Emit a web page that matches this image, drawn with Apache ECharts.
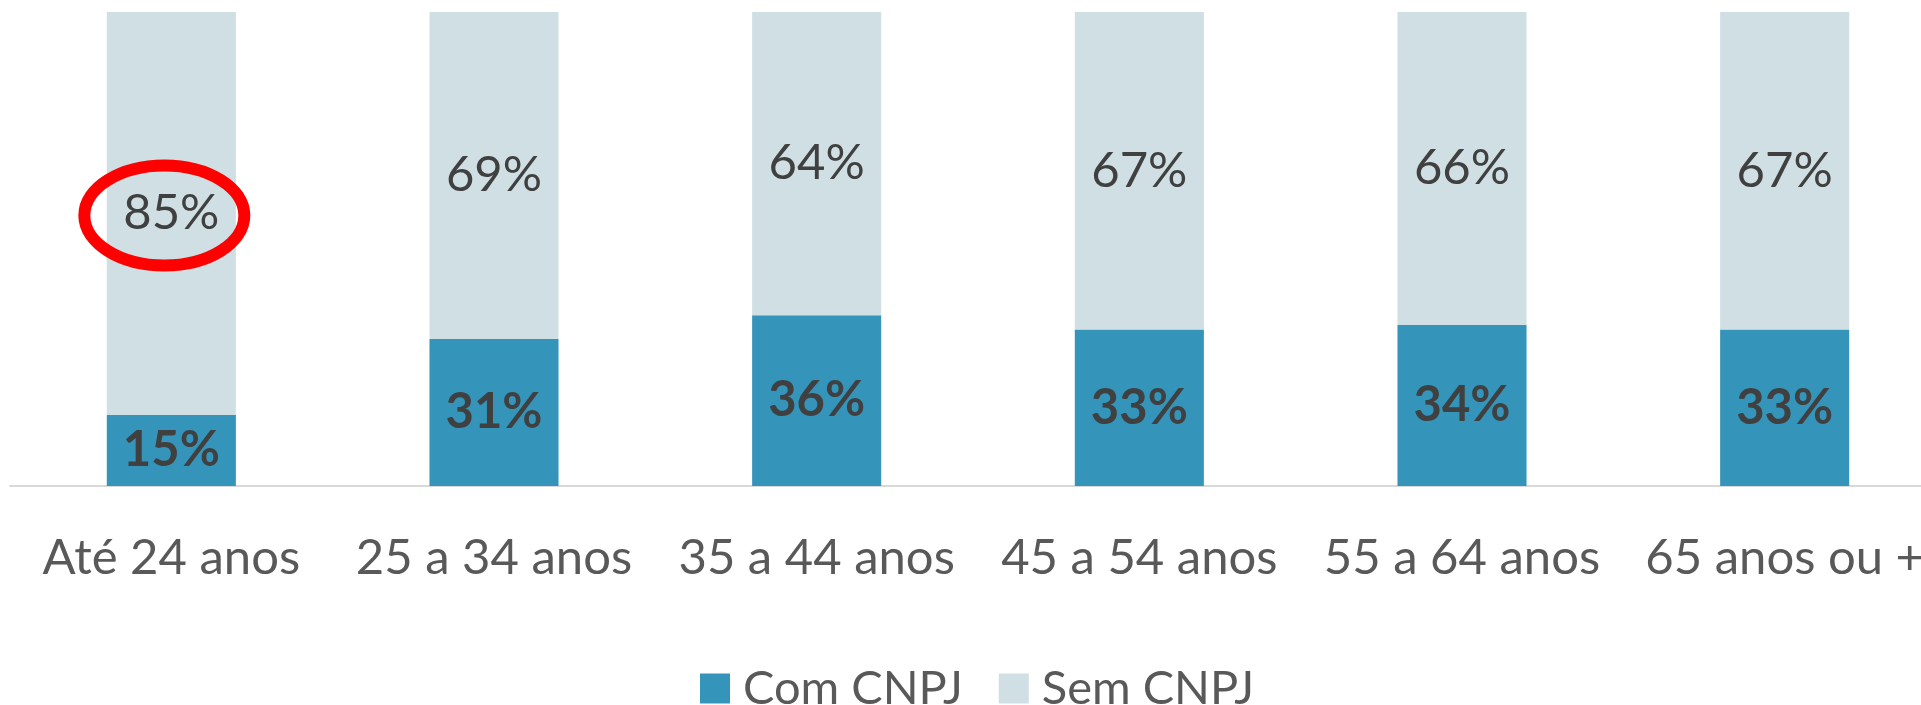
<!DOCTYPE html>
<html>
<head>
<meta charset="utf-8">
<script src="https://cdn.jsdelivr.net/npm/echarts@6/dist/echarts.min.js"></script>
<style>
  html, body { margin: 0; padding: 0; background: #fff; overflow: hidden; }
  #chart { width: 1946px; height: 705px; }
</style>
</head>
<body>
<div id="chart"></div>
<script>
var categories = ["Até 24 anos", "25 a 34 anos", "35 a 44 anos", "45 a 54 anos", "55 a 64 anos", "65 anos ou +"];
var comCnpj = [15, 31, 36, 33, 34, 33];
var semCnpj = [85, 69, 64, 67, 66, 67];
var highlightIndex = 0;

var font = "Lato";
var myChart = echarts.init(document.getElementById("chart"));
var option = {
  animation: false,
  textStyle: { fontFamily: font },
  grid: { left: 10, right: 0, top: 12, bottom: 219 },
  legend: {
    data: ["Com CNPJ", "Sem CNPJ"],
    left: 695,
    top: 660,
    icon: "rect",
    itemWidth: 30,
    itemHeight: 30,
    itemGap: 36,
    textStyle: { fontFamily: font, fontSize: 47, color: "#595959", padding: [0, 0, 0, 8] }
  },
  xAxis: {
    type: "category",
    data: categories,
    axisLine: { lineStyle: { color: "#D9D9D9", width: 2 } },
    axisTick: { show: false },
    axisLabel: { fontFamily: font, fontSize: 49, color: "#595959", margin: 48, interval: 0 }
  },
  yAxis: { type: "value", min: 0, max: 100, show: false, splitLine: { show: false } },
  series: [
    {
      name: "Com CNPJ",
      type: "bar",
      stack: "total",
      barWidth: "40%",
      data: comCnpj,
      itemStyle: { color: "#3494BA" },
      label: {
        show: true,
        position: "inside",
        formatter: "{c}%",
        fontFamily: font,
        fontSize: 49,
        fontWeight: "bold",
        color: "#404040"
      }
    },
    {
      name: "Sem CNPJ",
      type: "bar",
      stack: "total",
      barWidth: "40%",
      data: semCnpj,
      itemStyle: { color: "#CFDFE4" },
      label: {
        show: true,
        position: "inside",
        formatter: "{c}%",
        fontFamily: font,
        fontSize: 49,
        color: "#404040"
      }
    }
  ]
};
myChart.setOption(option);

// red ellipse around the highlighted label
var c = myChart.convertToPixel({ gridIndex: 0 }, [highlightIndex, comCnpj[highlightIndex] + semCnpj[highlightIndex] / 2]);
myChart.setOption({
  graphic: [{
    type: "ellipse",
    shape: { cx: c[0] - 7, cy: c[1] + 2, rx: 80, ry: 50 },
    style: { fill: "none", stroke: "#FF0000", lineWidth: 12 },
    z: 100
  }]
});
</script>
</body>
</html>
